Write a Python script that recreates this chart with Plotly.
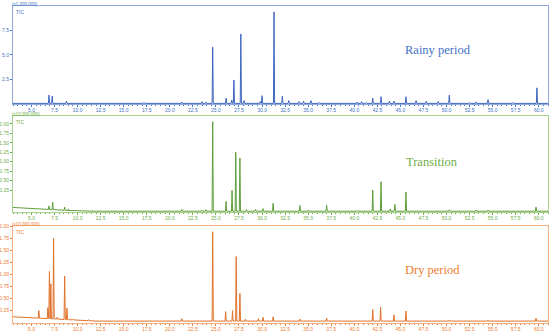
import numpy as np
import plotly.graph_objects as go

# ---------------- data ----------------
x_tick_vals = [5.0, 7.5, 10.0, 12.5, 15.0, 17.5, 20.0, 22.5, 25.0, 27.5, 30.0, 32.5,
               35.0, 37.5, 40.0, 42.5, 45.0, 47.5, 50.0, 52.5, 55.0, 57.5, 60.0]
x_tick_text = ["%.1f" % v for v in x_tick_vals]

rainy_y_ticks = [2.5, 5.0, 7.5]
rainy_y_text = ["2.5", "5.0", "7.5"]
other_y_ticks = [0.25, 0.50, 0.75, 1.00, 1.25, 1.50, 1.75, 2.00]
other_y_text = ["0.25", "0.50", "0.75", "1.00", "1.25", "1.50", "1.75", "2.00"]

# Rainy period (x1,000,000)
rainy_peak_times = [6.9, 7.25, 8.8, 17.2, 21.3, 23.5, 23.9, 24.65, 26.1, 26.72, 26.95,
                    27.7, 28.05, 29.8, 30.0, 31.3, 32.2, 32.9, 34.0, 34.5, 35.3, 36.2,
                    40.3, 40.8, 41.3, 42.0, 42.9, 43.8, 44.3, 45.6, 46.7, 47.8, 49.1,
                    50.3, 52.5, 53.2, 54.5, 57.2, 59.8]
rainy_peak_heights = [0.9, 0.8, 0.3, 0.15, 0.2, 0.25, 0.2, 5.8, 0.6, 0.4, 2.45,
                      7.15, 0.35, 0.25, 0.85, 9.4, 0.8, 0.35, 0.25, 0.3, 0.35, 0.15,
                      0.2, 0.25, 0.15, 0.6, 0.75, 0.3, 0.3, 0.75, 0.35, 0.3, 0.25,
                      0.9, 0.15, 0.2, 0.45, 0.15, 1.65]
rainy_base_times = [3.0, 61.0]
rainy_base_values = [0.06, 0.06]

# Transition (x10,000,000)
trans_peak_times = [6.9, 7.3, 8.6, 9.0, 21.3, 23.5, 23.9, 24.65, 26.1, 26.75, 27.15,
                    27.6, 28.3, 29.3, 30.1, 31.2, 34.1, 35.0, 37.0, 40.3, 42.0, 42.9,
                    43.9, 44.4, 45.6, 50.3, 53.2, 54.5, 59.7]
trans_peak_heights = [-0.17, -0.07, -0.2, -0.25, -0.26, -0.28, -0.27, 2.06, -0.05, 0.24, 1.25,
                      1.1, -0.27, -0.26, -0.24, -0.1, -0.16, -0.28, -0.15, -0.29, 0.25, 0.47,
                      -0.25, -0.13, 0.2, -0.27, -0.28, -0.28, -0.2]
trans_base_times = [3.0, 6.0, 9.0, 12.0, 61.0]
trans_base_values = [-0.21, -0.25, -0.29, -0.31, -0.31]

# Dry period (x10,000,000)
dry_peak_times = [5.8, 6.78, 6.95, 7.1, 7.4, 7.8, 8.6, 8.85, 9.5, 11.2, 21.3, 24.65,
                  26.05, 26.8, 27.2, 27.6, 28.2, 29.6, 30.1, 31.2, 34.1, 37.0, 42.0,
                  42.85, 44.3, 45.6, 50.3, 54.5, 59.7]
dry_peak_heights = [0.24, 0.3, 1.06, 0.8, 1.75, 0.1, 0.96, 0.29, 0.06, 0.05, 0.07, 1.89,
                    0.22, 0.24, 1.37, 0.6, 0.06, 0.07, 0.1, 0.11, 0.06, 0.08, 0.26,
                    0.31, 0.15, 0.23, 0.04, 0.04, 0.08]
dry_base_times = [3.0, 6.0, 9.0, 12.0, 61.0]
dry_base_values = [0.11, 0.08, 0.05, 0.02, 0.02]

panel_titles = ["Rainy period", "Transition", "Dry period"]
scale_labels = ["(x1,000,000)", "(x10,000,000)", "(x10,000,000)"]


def chromatogram(times, heights, bt, bv, w=0.065):
    pts = list(zip(bt, bv))
    for t, h in zip(times, heights):
        b = float(np.interp(t, bt, bv))
        pts += [(t - w, b), (t, h), (t + w, b)]
    pts.sort(key=lambda p: p[0])
    return [p[0] for p in pts], [p[1] for p in pts]


panels = [
    dict(times=rainy_peak_times, heights=rainy_peak_heights, bt=rainy_base_times,
         bv=rainy_base_values, line="#3F66BE", text="#4472C4", border="#8FAADC",
         yr=[0, 10.0], yt=rainy_y_ticks, ytt=rainy_y_text, dom=[0.6909, 1.0],
         lab=(0.794, 0.551)),
    dict(times=trans_peak_times, heights=trans_peak_heights, bt=trans_base_times,
         bv=trans_base_values, line="#5E9E3A", text="#70AD47", border="#A9D18E",
         yr=[-0.33, 2.21], yt=other_y_ticks, ytt=other_y_text, dom=[0.3502, 0.6530],
         lab=(0.783, 0.52)),
    dict(times=dry_peak_times, heights=dry_peak_heights, bt=dry_base_times,
         bv=dry_base_values, line="#E0722A", text="#ED7D31", border="#F4B183",
         yr=[-0.02, 2.01], yt=other_y_ticks, ytt=other_y_text, dom=[0.0, 0.306],
         lab=(0.785, 0.546)),
]

fig = go.Figure()
layout = dict(
    template="none",
    width=550, height=334,
    margin=dict(l=13, r=2, t=6, b=11, autoexpand=False),
    paper_bgcolor="white", plot_bgcolor="white",
    showlegend=False,
    font=dict(family="Liberation Sans", size=5),
    annotations=[],
)

for i, p in enumerate(panels):
    n = "" if i == 0 else str(i + 1)
    xs, ys = chromatogram(p["times"], p["heights"], p["bt"], p["bv"])
    fig.add_trace(go.Scatter(x=xs, y=ys, mode="lines",
                             line=dict(color=p["line"], width=1),
                             xaxis="x" + n, yaxis="y" + n, hoverinfo="skip"))
    layout["xaxis" + n] = dict(
        domain=[0, 1], anchor="y" + n, range=[3, 61], automargin=False,
        tickmode="array", tickvals=x_tick_vals, ticktext=x_tick_text,
        ticks="outside", ticklen=2, tickwidth=1, tickcolor=p["text"],
        ticklabelstandoff=-1,
        tickfont=dict(size=5, color=p["text"], family="Liberation Sans"),
        showline=True, linecolor=p["border"], linewidth=1, mirror=True,
        showgrid=False, zeroline=False,
        minor=dict(tickmode="linear", tick0=0, dtick=0.5, ticks="outside",
                   ticklen=1, tickcolor=p["text"], showgrid=False),
    )
    layout["yaxis" + n] = dict(
        domain=p["dom"], anchor="x" + n, range=p["yr"], automargin=False,
        tickmode="array", tickvals=p["yt"], ticktext=p["ytt"],
        ticks="outside", ticklen=2, tickwidth=1, tickcolor=p["text"],
        tickfont=dict(size=5, color=p["text"], family="Liberation Sans"),
        showline=True, linecolor=p["border"], linewidth=1, mirror=True,
        showgrid=False, zeroline=False,
    )
    xr = "x%s domain" % n
    yr = "y%s domain" % n
    layout["annotations"] += [
        dict(xref=xr, yref=yr, x=-0.006, y=1.0, xanchor="left", yanchor="bottom",
             yshift=-3, text=scale_labels[i], showarrow=False,
             font=dict(size=4.5, color=p["text"], family="Liberation Sans")),
        dict(xref=xr, yref=yr, x=0.002, y=0.99, xanchor="left", yanchor="top",
             text="TIC", showarrow=False,
             font=dict(size=5, color=p["text"], family="Liberation Sans")),
        dict(xref=xr, yref=yr, x=p["lab"][0], y=p["lab"][1],
             xanchor="center", yanchor="middle",
             text=panel_titles[i], showarrow=False,
             font=dict(size=12.5, color=p["text"], family="Liberation Serif")),
    ]

fig.update_layout(**layout)
fig.write_html("out.html", config={"displayModeBar": False},
               post_script="document.body.style.margin='0';document.body.style.overflow='hidden';")
